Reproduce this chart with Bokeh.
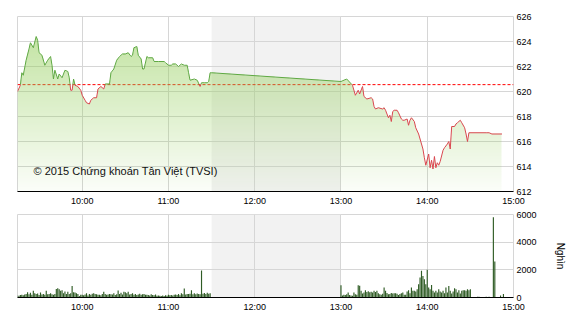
import numpy as np
from bokeh.plotting import figure
from bokeh.layouts import column
from bokeh.models import FixedTicker, BoxAnnotation, Span, Label, Range1d
from bokeh.embed import file_html
from bokeh.resources import INLINE

# ---------------- data ----------------
price_times = ["09:15","09:17","09:18","09:19","09:21","09:23","09:24","09:26","09:28","09:29",
               "09:30","09:32","09:34","09:36","09:38","09:39","09:40","09:41","09:43","09:44",
               "09:46","09:48","09:50","09:51","09:52","09:53","09:54","09:55","09:57","09:59",
               "10:00","10:02","10:03","10:05","10:06","10:08","10:10","10:11","10:13","10:15",
               "10:16","10:19","10:20","10:22","10:24","10:26","10:28","10:30","10:32","10:34",
               "10:35","10:36","10:38","10:39","10:41","10:42","10:43","10:45","10:46","10:49",
               "10:50","10:53","10:57","10:58","11:00","11:02","11:03","11:05","11:07","11:09",
               "11:11","11:13","11:14","11:15","11:18","11:20","11:22","11:23","11:25","11:27",
               "11:28","11:29","11:30",
               "13:00","13:04","13:08","13:10","13:12","13:13","13:15","13:16","13:18","13:21",
               "13:22","13:23","13:24","13:26","13:29","13:30","13:31","13:33","13:34","13:35",
               "13:36","13:37","13:39","13:40","13:42","13:43","13:44","13:46","13:47","13:48",
               "13:49","13:51","13:52","13:54","13:55","13:57","13:58","13:59","14:01","14:02",
               "14:03","14:04","14:05","14:06","14:07","14:08","14:09","14:11","14:12","14:14",
               "14:15","14:16","14:17","14:19","14:20","14:21","14:23","14:24","14:26","14:27",
               "14:28","14:29","14:41","14:43","14:45","14:52"]
price_values = [620.0,620.5,621.5,621.3,622.5,623.4,623.9,623.5,624.4,624.1,
                623.1,622.9,622.1,622.5,622.8,622.1,621.0,621.7,621.0,621.4,
                621.1,621.7,621.6,621.1,620.1,620.1,621.0,620.5,620.4,620.1,
                619.7,619.3,619.1,619.0,619.3,619.5,619.5,620.2,620.4,620.2,
                620.6,620.6,621.5,621.8,622.5,622.8,623.0,623.0,623.1,622.8,
                622.9,623.5,623.6,622.9,622.6,621.8,621.8,622.8,622.7,622.7,
                622.4,622.4,622.4,622.3,622.1,622.1,622.2,622.2,622.0,622.2,
                622.1,622.1,621.5,620.9,621.0,620.9,620.4,620.7,620.7,620.7,
                620.8,621.5,621.5,
                620.8,621.0,620.5,619.7,620.1,619.8,620.4,619.6,619.4,619.5,
                619.4,618.8,618.6,618.7,618.6,618.7,618.5,617.9,618.1,617.6,
                618.4,618.5,618.5,618.3,617.8,617.7,617.7,617.8,617.3,617.7,
                617.9,617.6,617.1,616.6,616.2,615.4,614.7,614.1,615.0,613.9,
                614.5,613.8,614.8,613.9,614.3,614.1,614.4,615.3,615.5,615.8,
                616.0,615.4,617.2,617.2,617.4,617.5,617.7,617.5,617.1,616.6,
                616.0,616.7,616.7,616.7,616.6,616.6]
ref_price = 620.55

vol_morning_start = "09:15"   # one bar per minute
vol_morning = [150,130,180,200,170, 220,260,380,240,350, 200,480,300,260,290,
               180,360,220,250,200, 480,230,260,300,240, 200,260,620,670,600,
               480,520,300,440,250, 420,260,300,840,380, 360,300,250,110,200,
               190,170,210,300,150, 260,190,280,300,260, 230,200,190,170,260,
               420,250,200,220,260, 230,210,300,180,240, 500,260,340,220,420,
               380,300,420,220,250, 300,200,260,180,220, 270,200,230,250,190,
               200,180,150,240,180, 170,210,120,150,130, 110,140,100,170,120,
               200,160,180,150,200, 220,180,260,170,300, 240,650,220,260,250,
               280,520,230,300,240, 290,250,240,1950,280, 320,260,350,280,310]
vol_afternoon_start = "13:00"  # one bar per minute
vol_afternoon = [890,150,200,180,240, 360,180,150,130,360, 240,200,890,850,480,
                 290,360,530,400,450, 380,420,360,480,400, 480,300,240,200,280,
                 720,480,330,240,260, 320,290,300,300,280, 180,260,300,360,200,
                 200,430,530,300,720, 480,480,430,600,960, 1440,1930,1560,1320,960,
                 2000,720,600,910,480, 360,480,360,600,430, 360,480,300,720,360,
                 840,480,290,430,670, 600,360,530,290,480, 530,530,480,600,530,
                 600, 0,0,0,0, 50,50,0,0,0, 0,60,0,60,0, 0,5800,2600,0,0, 0,150,0,250]

x_start, x_end = "09:15", "15:00"
hour_labels = ["10:00", "11:00", "12:00", "13:00", "14:00", "15:00"]
lunch_break = ("11:30", "13:00")
price_ticks = [612, 614, 616, 618, 620, 622, 624, 626]
vol_ticks = [0, 2000, 4000, 6000]
copyright_text = "© 2015 Chứng khoán Tân Việt (TVSI)"
vol_unit = "Nghìn"

# ---------------- helpers ----------------
def to_min(s):
    h, m = s.split(":")
    return int(h) * 60 + int(m)

FONT = "Liberation Sans"
GRID = "#d6d6d6"
FW, FH1, FH2 = 496, 175, 83
px = np.array([to_min(t) for t in price_times], dtype=float)
py = np.array(price_values, dtype=float)
tick_pos = [to_min(t) for t in hour_labels]
overrides = {to_min(t): t for t in hour_labels}
X0, X1 = to_min(x_start), to_min(x_end)


def style(p, yticks):
    p.xaxis.ticker = FixedTicker(ticks=tick_pos)
    p.xaxis.major_label_overrides = overrides
    p.xgrid.ticker = FixedTicker(ticks=tick_pos)
    p.yaxis.ticker = FixedTicker(ticks=yticks)
    p.ygrid.ticker = FixedTicker(ticks=yticks)
    for g in (p.xgrid, p.ygrid):
        g.grid_line_color = GRID
        g.grid_line_width = 1
    p.outline_line_color = GRID
    p.xaxis.axis_line_color = "black"
    p.xaxis.axis_line_width = 1
    p.yaxis.axis_line_color = None
    for ax in (p.xaxis, p.yaxis):
        ax.major_tick_line_color = None
        ax.minor_tick_line_color = None
        ax.major_tick_out = 0
        ax.major_tick_in = 0
        ax.major_label_text_font = FONT
        ax.major_label_text_font_size = "9px"
        ax.major_label_text_color = "black"
    p.yaxis.major_label_standoff = 3
    p.xaxis.major_label_standoff = 4
    p.add_layout(BoxAnnotation(left=to_min(lunch_break[0]), right=to_min(lunch_break[1]),
                               fill_color="#f2f2f2", fill_alpha=1.0, line_color=None,
                               level="image"))
    p.background_fill_color = "white"
    p.border_fill_color = "white"


# ---------------- price chart ----------------
p1 = figure(frame_width=FW, frame_height=FH1, min_border_left=17, min_border_right=57,
            min_border_top=16, min_border_bottom=19,
            x_range=Range1d(X0, X1),
            y_range=Range1d(price_ticks[0], price_ticks[-1]),
            y_axis_location="right", output_backend="svg", toolbar_location=None)
style(p1, price_ticks)

p1.add_layout(Span(location=ref_price, dimension="width", line_color="#ff0000",
                   line_dash="3 2", line_width=1, level="underlay"))

# gradient area fill under the price line (one raster pixel per screen pixel)
ymin, ymax = price_ticks[0], price_ticks[-1]
xc = X0 + (np.arange(FW) + 0.5) * (X1 - X0) / FW
yc = ymin + (np.arange(FH1) + 0.5) * (ymax - ymin) / FH1
top = np.interp(xc, px, py)
inside = (yc[:, None] <= top[None, :]) & (xc[None, :] >= px[0]) & (xc[None, :] <= px[-1])
frac = (yc - ymin) / (ymax - ymin)
alpha = 0.04 + 0.58 * frac
rgba = np.zeros((FH1, FW, 4), dtype=np.uint8)
rgba[..., 0] = 0x94
rgba[..., 1] = 0xce
rgba[..., 2] = 0x5b
rgba[..., 3] = np.where(inside, (alpha[:, None] * 255).astype(np.uint8), 0)
img = rgba.view(dtype=np.uint32).reshape((FH1, FW))
p1.image_rgba(image=[img], x=X0, y=ymin, dw=X1 - X0, dh=ymax - ymin)

# split line at the reference price crossing
ox, oy = [px[0]], [py[0]]
for i in range(1, len(px)):
    y0, y1v = py[i - 1], py[i]
    if (y0 - ref_price) * (y1v - ref_price) < 0:
        t = (ref_price - y0) / (y1v - y0)
        ox.append(px[i - 1] + t * (px[i] - px[i - 1]))
        oy.append(ref_price)
    ox.append(px[i])
    oy.append(y1v)
ox = np.array(ox)
oy = np.array(oy)
green = np.where(oy >= ref_price, oy, np.nan)
red = np.where(oy <= ref_price, oy, np.nan)
p1.line(ox, green, line_color="#5fa843", line_width=1)
p1.line(ox, red, line_color="#d9474f", line_width=1)

p1.add_layout(Label(x=16, y=21, x_units="screen", y_units="screen", text=copyright_text,
                    text_font=FONT, text_font_size="11px", text_baseline="middle",
                    text_color="#111111"))

# ---------------- volume chart ----------------
p2 = figure(frame_width=FW, frame_height=FH2, min_border_left=17, min_border_right=57,
            min_border_top=4, min_border_bottom=23,
            x_range=p1.x_range, y_range=Range1d(vol_ticks[0], vol_ticks[-1]),
            y_axis_location="right", output_backend="svg", toolbar_location=None)
style(p2, vol_ticks)
vx = np.concatenate([to_min(vol_morning_start) + np.arange(len(vol_morning)),
                     to_min(vol_afternoon_start) + np.arange(len(vol_afternoon))])
vy = np.array(vol_morning + vol_afternoon, dtype=float)
p2.vbar(x=vx, width=0.8, top=vy, bottom=0, fill_color="#2f5c25", line_color=None)
p2.yaxis.axis_label = vol_unit
p2.yaxis.axis_label_text_font = FONT
p2.yaxis.axis_label_text_font_size = "10px"
p2.yaxis.axis_label_text_font_style = "normal"
p2.yaxis.axis_label_text_color = "black"
p2.yaxis.axis_label_standoff = 15

layout = column(p1, p2, spacing=0)
open("out.html", "w").write(file_html(layout, INLINE))
